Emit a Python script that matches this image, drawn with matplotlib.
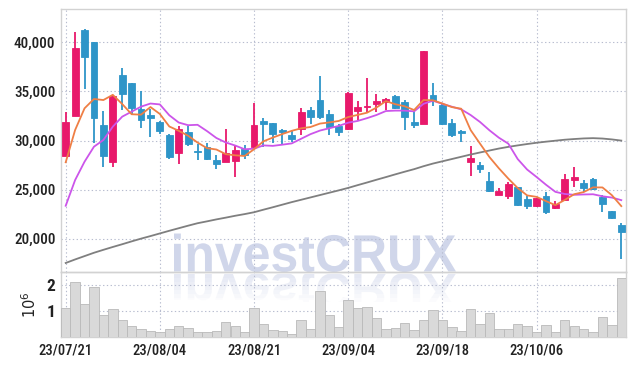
import matplotlib
matplotlib.use("Agg")
import matplotlib.pyplot as plt
import numpy as np
import pandas as pd
from matplotlib.textpath import TextPath
from matplotlib.patches import PathPatch, Rectangle
from matplotlib.font_manager import FontProperties
from matplotlib import font_manager as fm
from matplotlib.transforms import Affine2D

# ---------------- data ----------------
dates = ["2023-07-21",
         "2023-07-24", "2023-07-25", "2023-07-26", "2023-07-27", "2023-07-28",
         "2023-07-31", "2023-08-01", "2023-08-02", "2023-08-03", "2023-08-04",
         "2023-08-07", "2023-08-08", "2023-08-09", "2023-08-10", "2023-08-11",
         "2023-08-14", "2023-08-16", "2023-08-17", "2023-08-18",
         "2023-08-21", "2023-08-22", "2023-08-23", "2023-08-24", "2023-08-25",
         "2023-08-28", "2023-08-29", "2023-08-30", "2023-08-31", "2023-09-01",
         "2023-09-04", "2023-09-05", "2023-09-06", "2023-09-07", "2023-09-08",
         "2023-09-11", "2023-09-12", "2023-09-13", "2023-09-14", "2023-09-15",
         "2023-09-18", "2023-09-19", "2023-09-20", "2023-09-21", "2023-09-22",
         "2023-09-25", "2023-09-26", "2023-09-27", "2023-10-04", "2023-10-05",
         "2023-10-06", "2023-10-10", "2023-10-11", "2023-10-12", "2023-10-13",
         "2023-10-16", "2023-10-17", "2023-10-18", "2023-10-19", "2023-10-20"]

opens = [28450, 32530, 41270, 40030, 31580, 27840, 36680, 35830, 33210, 32600,
         31860, 30560, 28690, 30840, 28930, 29370, 28010, 27840, 27960, 29180,
         29290, 31990, 31770, 31070, 30560, 31170, 33110, 34130, 32700, 31510,
         31170, 33040, 33370, 33720, 33960, 34540, 33930, 31890, 31650, 34640,
         33620, 31750, 31000, 27840, 27500, 25870, 24470, 24370, 25230, 24030,
         23350, 24310, 23080, 23930, 25990, 25700, 26070, 24240, 22810, 21380]
highs = [32860, 41040, 41350, 40050, 32960, 34600, 37360, 35900, 35050, 33160,
         31950, 30660, 31430, 31460, 29610, 29710, 28570, 31140, 29390, 29540,
         33860, 32260, 31800, 31150, 31120, 33320, 33450, 36580, 33060, 31700,
         34950, 34000, 36340, 34710, 34360, 34600, 34130, 33040, 39130, 35900,
         33700, 32160, 31050, 29440, 27840, 26760, 25210, 25800, 25250, 24390,
         24150, 24780, 23830, 26580, 27270, 25970, 26150, 24410, 22850, 21550]
lows = [28400, 32500, 35200, 29700, 27350, 27300, 33110, 32600, 31240, 30360,
        30660, 28130, 27600, 29420, 28010, 28010, 27110, 27800, 26250, 28160,
        29250, 29290, 29780, 29640, 29800, 30560, 31680, 32190, 30510, 30410,
        31020, 32090, 32940, 32940, 33110, 33200, 31020, 31280, 31650, 33520,
        31580, 30330, 29850, 26380, 26690, 24720, 24450, 24000, 23350, 22980,
        23190, 22470, 23050, 23830, 25290, 24780, 24950, 22740, 21960, 17880]
closes = [31890, 39400, 38550, 32330, 28450, 34540, 34710, 33350, 32120, 32330,
          31000, 28350, 31140, 29610, 28850, 28160, 27650, 28760, 29030, 28520,
          31580, 31710, 30660, 30820, 30150, 32880, 32370, 32400, 31410, 30900,
          34880, 33450, 33520, 34030, 34180, 33320, 32370, 31630, 39130, 34030,
          31680, 30560, 30800, 28250, 27090, 24850, 24850, 25560, 23420, 23350,
          24100, 22680, 23520, 26070, 26260, 25190, 25070, 23490, 22130, 20700]
volumes = [1.11, 2.12, 1.26, 1.91, 0.85, 1.07, 0.65, 0.41, 0.31, 0.23,
           0.19, 0.31, 0.41, 0.34, 0.19, 0.19, 0.23, 0.57, 0.42, 0.19,
           1.11, 0.50, 0.27, 0.23, 0.11, 0.65, 0.31, 1.76, 0.85, 0.38,
           1.41, 1.11, 1.15, 0.73, 0.31, 0.34, 0.53, 0.27, 0.65, 1.03,
           0.65, 0.38, 0.23, 1.07, 0.51, 0.92, 0.31, 0.31, 0.50, 0.42,
           0.19, 0.46, 0.19, 0.65, 0.42, 0.31, 0.19, 0.76, 0.46, 2.25]  # millions
# moving-average values before enough in-window history
ma5_head = [27780, 31070, 33280, 34230]
ma10_head = [23350, 25970, 27840, 29370, 30050, 31410, 32430, 32940, 33450]
ma_long = [17520, 17880, 18220, 18560, 18860, 19150, 19430, 19720, 20000, 20260,
           20530, 20800, 21060, 21320, 21570, 21760, 21960, 22140, 22330, 22500,
           22690, 22950, 23200, 23460, 23720, 23960, 24200, 24440, 24680, 24920,
           25170, 25450, 25720, 26000, 26270, 26550, 26820, 27080, 27380, 27650,
           27880, 28110, 28340, 28570, 28780, 28980, 29180, 29350, 29500, 29640,
           29770, 29880, 29980, 30080, 30150, 30210, 30240, 30200, 30110, 29990]
tick_idx = [0, 10, 20, 30, 40, 50]
price_ticks = [20000, 25000, 30000, 35000, 40000]
vol_ticks = [1, 2]

# ---------------- derived ----------------
df = pd.DataFrame({"date": pd.to_datetime(dates), "open": opens, "high": highs,
                   "low": lows, "close": closes, "vol": volumes})
n = len(df)
x = np.arange(n)
ma5 = df["close"].rolling(5).mean().to_numpy()
ma5[:len(ma5_head)] = ma5_head
ma10 = df["close"].rolling(10).mean().to_numpy()
ma10[:len(ma10_head)] = ma10_head

UP = "#e8196b"
DOWN = "#2e95c8"
GRID = "#b7bccf"
SPINE = "#d2d2d2"
TXT = "#222222"
WM = "#d0d6ea"


# ---------- pick a condensed font if one is installed ----------
def pick_font():
    entries = [(f.name, str(f.stretch)) for f in fm.fontManager.ttflist]
    names = {e[0] for e in entries}
    for fam in ["Roboto Condensed", "Liberation Sans Narrow", "Open Sans Condensed",
                "Noto Sans Condensed", "DejaVu Sans Condensed"]:
        if fam in names:
            return dict(family=[fam, "DejaVu Sans"])
    for fam in ["Roboto", "Noto Sans", "Open Sans", "DejaVu Sans"]:
        for nm, st in entries:
            if nm == fam and "condensed" in st and "extra" not in st and "ultra" not in st:
                return dict(family=[fam, "DejaVu Sans"], stretch=st)
    return dict(family=["Roboto", "DejaVu Sans"])


fkw = pick_font()


def sized(target_px_width, sample, weight="medium", max_pt=11.0):
    fp = FontProperties(weight=weight, **fkw)
    w = TextPath((0, 0), sample, size=10, prop=fp).get_extents().width
    size_px = 10 * target_px_width / w
    pt = min(size_px * 72 / 100, max_pt)
    return FontProperties(size=pt, weight=weight, **fkw)


ytick_font = sized(40, "40,000")
xtick_font = sized(51, "23/07/21")
vtick_font = FontProperties(size=12.5, weight="bold", **fkw)

W, H = 634, 366
fig = plt.figure(figsize=(W / 100, H / 100), dpi=100, facecolor="white")
ax = fig.add_axes([61 / W, (H - 272) / H, 565 / W, 263 / H])
axv = fig.add_axes([61 / W, (H - 337) / H, 565 / W, 65 / H], sharex=ax)
for a in (ax, axv):
    a.set_facecolor("none")
    for s in a.spines.values():
        s.set_color(SPINE)
        s.set_linewidth(1.0)

# candles
up = df["close"] >= df["open"]
colors = np.where(up, UP, DOWN)
body_lo = np.minimum(df["open"], df["close"])
body_h = np.abs(df["close"] - df["open"])
ax.vlines(x, df["low"], df["high"], colors=colors, linewidth=1.3, zorder=3)
ax.bar(x, body_h, bottom=body_lo, width=0.72, color=colors, edgecolor=colors,
       linewidth=0.6, zorder=4)

# moving averages
ax.plot(x, ma_long, color="#7f7f7f", lw=1.3, zorder=5)
ax.plot(x, ma10, color="#cc55ea", lw=1.3, zorder=5)
ax.plot(x, ma5, color="#ef7f45", lw=1.3, zorder=6)

ax.set_xlim(-0.5, n - 0.5)
ax.set_ylim(16600, 43400)
ax.set_yticks(price_ticks)
ax.set_yticklabels([f"{v:,}" for v in price_ticks], fontproperties=ytick_font, color=TXT)
ax.set_xticks(tick_idx)
ax.grid(True, color=GRID, linestyle=(0, (1.2, 2.2)), linewidth=0.8)
ax.tick_params(axis="both", length=0)
ax.tick_params(axis="y", pad=4)
ax.tick_params(axis="x", labelbottom=False)

# volume
axv.bar(x, df["vol"], width=1.0, color="#d9d9d9", edgecolor="#b9b9b9",
        linewidth=0.6, zorder=3)
axv.set_ylim(0, 2.49)
axv.set_yticks(vol_ticks)
axv.set_yticklabels([str(v) for v in vol_ticks], fontproperties=vtick_font, color=TXT)
axv.set_xticks(tick_idx)
axv.set_xticklabels([df["date"][i].strftime("%y/%m/%d") for i in tick_idx],
                    fontproperties=xtick_font, color=TXT)
axv.grid(True, color=GRID, linestyle=(0, (1.2, 2.2)), linewidth=0.8)
axv.tick_params(axis="both", length=0)
axv.tick_params(axis="y", pad=4)
axv.tick_params(axis="x", pad=5)
axv.set_ylabel(r"$10^{6}$", fontsize=10.5, color=TXT)
axv.yaxis.set_label_coords(-22 / 565, 0.5)

# watermark with reflection
fp = FontProperties(family=["Liberation Sans", "DejaVu Sans"], weight="bold")
tp = TextPath((0, 0), "investCRUX", size=100, prop=fp)
bb = tp.get_extents()
sx = 282 / bb.width
sy = 38.5 / bb.height
base_y = H - 271.5
t_main = (Affine2D().translate(-bb.x0, 0).scale(sx, sy).translate(174, base_y)
          .scale(1 / 100) + fig.dpi_scale_trans)
wm = PathPatch(tp, facecolor=WM, edgecolor="none", transform=t_main, zorder=-1)
fig.add_artist(wm)
t_ref = (Affine2D().translate(-bb.x0, 0).scale(sx, -sy * 0.95).translate(174, base_y - 2)
         .scale(1 / 100) + fig.dpi_scale_trans)
bands = 7
for k in range(bands):
    y0 = base_y - 2 - 4 * (k + 1)
    clip = Rectangle((0, y0 / 100), W / 100, 4 / 100, transform=fig.dpi_scale_trans,
                     facecolor="none", edgecolor="none")
    fig.add_artist(clip)
    rp = PathPatch(tp, facecolor=WM, edgecolor="none", transform=t_ref, zorder=-1,
                   alpha=0.55 * (1 - k / bands))
    rp.set_clip_path(clip)
    fig.add_artist(rp)

fig.savefig("out.png", dpi=100, facecolor="white")
